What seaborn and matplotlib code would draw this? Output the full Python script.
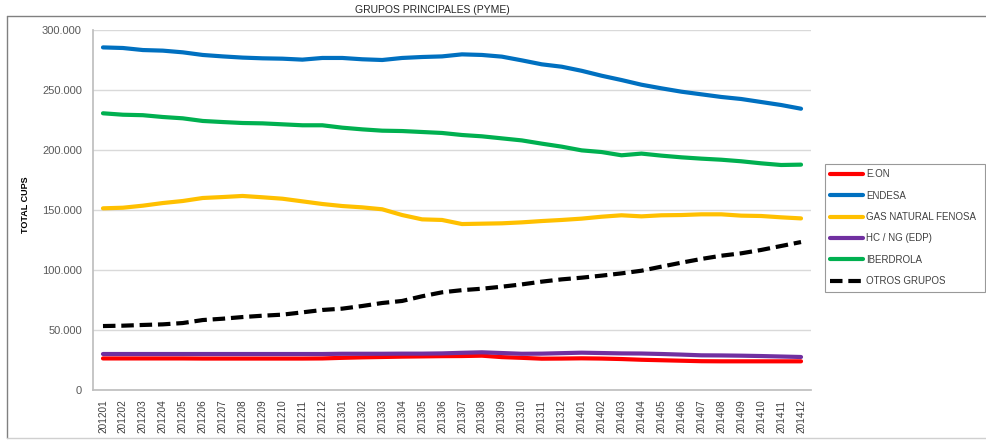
import pandas as pd
import matplotlib.pyplot as plt
import matplotlib.ticker as mticker
from matplotlib.lines import Line2D
import seaborn as sns

# ------------------------------
# Data
# ------------------------------
meses = ["201201", "201202", "201203", "201204", "201205", "201206",
         "201207", "201208", "201209", "201210", "201211", "201212",
         "201301", "201302", "201303", "201304", "201305", "201306",
         "201307", "201308", "201309", "201310", "201311", "201312",
         "201401", "201402", "201403", "201404", "201405", "201406",
         "201407", "201408", "201409", "201410", "201411", "201412"]

eon = [26300, 26300, 26300, 26300, 26300, 26200, 26200, 26200, 26200, 26200, 26200, 26300,
       26800, 27200, 27500, 27800, 28000, 28200, 28300, 28600, 27400, 26800, 26100, 26200,
       26400, 26200, 25800, 25200, 24800, 24400, 24000, 23900, 23900, 23900, 23900, 23900]

endesa = [285500, 285000, 283300, 282800, 281400, 279200, 278000, 277000, 276400, 276100, 275300, 276700,
          276700, 275600, 275000, 276700, 277500, 278000, 279700, 279200, 277800, 274700, 271400, 269400,
          266000, 261900, 258300, 254400, 251400, 248600, 246400, 244200, 242500, 240000, 237500, 234400]

gas_natural = [151400, 151900, 153600, 155800, 157500, 160000, 160800, 161700, 160600, 159400, 157200, 155000,
               153300, 152200, 150600, 145800, 142200, 141700, 138300, 138600, 138900, 139700, 140800, 141700,
               142800, 144400, 145600, 144700, 145600, 145800, 146400, 146400, 145300, 145000, 143900, 143000]

hc_ng = [30000, 30000, 30000, 30000, 30000, 30000, 30000, 30000, 30000, 30000, 30000, 30000,
         30200, 30200, 30200, 30300, 30300, 30500, 31000, 31400, 30800, 30200, 30300, 30700,
         31100, 30800, 30500, 30400, 30000, 29500, 28900, 28800, 28600, 28300, 27900, 27500]

iberdrola = [230600, 229400, 229000, 227500, 226400, 224200, 223300, 222500, 222200, 221400, 220600, 220600,
             218600, 217200, 216100, 215800, 215000, 214200, 212500, 211400, 209700, 208000, 205300, 202800,
             199700, 198300, 195600, 197000, 195300, 193900, 192800, 191900, 190600, 188900, 187500, 187800]

otros = [53300, 53600, 54200, 54700, 55800, 58300, 59400, 60800, 61900, 62800, 64700, 66700,
         67800, 70000, 72500, 74200, 78100, 81400, 83200, 84400, 86100, 88000, 90300, 92200,
         93600, 95300, 97200, 99400, 102800, 106100, 109200, 111900, 113900, 116700, 120000, 123300]

grupos = ["E.ON", "ENDESA", "GAS NATURAL FENOSA", "HC / NG (EDP)", "IBERDROLA", "OTROS GRUPOS"]
series = [eon, endesa, gas_natural, hc_ng, iberdrola, otros]
colores = ["#FF0000", "#0070C0", "#FFC000", "#7030A0", "#00B050", "#000000"]

# long table for seaborn
rows = []
for g, vals in zip(grupos, series):
    for i, v in enumerate(vals):
        rows.append({"grupo": g, "idx": i, "valor": v})
df = pd.DataFrame(rows)

# ------------------------------
# Style
# ------------------------------
sns.set_theme(style="white")
plt.rcParams["font.family"] = ["Liberation Sans", "DejaVu Sans"]

fig = plt.figure(figsize=(9.86, 4.4), dpi=100)
ax = fig.add_axes([93 / 986, 1 - 390 / 440, (811 - 93) / 986, 360 / 440])

dashes = {g: "" for g in grupos}
dashes["OTROS GRUPOS"] = (3, 1.4)
sns.lineplot(data=df, x="idx", y="valor", hue="grupo", style="grupo",
             hue_order=grupos, style_order=grupos,
             palette=dict(zip(grupos, colores)), dashes=dashes,
             linewidth=3, legend=False, ax=ax)
for ln in ax.lines:
    ln.set_solid_capstyle("round")
    ln.set_dash_capstyle("butt")

# ------------------------------
# Axes
# ------------------------------
ax.set_xlim(-0.5, len(meses) - 0.5)
ax.set_ylim(0, 300000)
ax.yaxis.set_major_locator(mticker.MultipleLocator(50000))
ax.yaxis.set_major_formatter(mticker.FuncFormatter(lambda v, p: f"{v:,.0f}".replace(",", ".")))
ax.set_xticks(range(len(meses)))
ax.set_xticklabels(meses, rotation=90, fontsize=7.2, color="#404040")
ax.set_xticks([i - 0.5 for i in range(len(meses) + 1)], minor=True)
ax.tick_params(axis="x", which="major", length=0, pad=7)
ax.tick_params(axis="x", which="minor", length=4, color="#bfbfbf", width=0.8)
ax.tick_params(axis="y", labelsize=8, labelcolor="#595959", length=3, color="#bfbfbf", pad=5)
ax.grid(axis="y", color="#d9d9d9", linewidth=1)
ax.set_axisbelow(True)
for s in ["top", "right"]:
    ax.spines[s].set_visible(False)
ax.spines["left"].set_color("#bfbfbf")
ax.spines["bottom"].set_color("#bfbfbf")
ax.set_xlabel("")
ax.set_ylabel("TOTAL CUPS", fontsize=6.5, fontweight="bold", color="#000000")
ax.yaxis.set_label_coords((30 - 93) / 718, (390 - 205) / 360)

fig.text(432 / 986, 1 - 10 / 440, "GRUPOS PRINCIPALES (PYME)", ha="center", va="center", fontsize=7.5)

# outer chart-area frame
frame_color = "#808080"
fig.add_artist(Line2D([7 / 986, 7 / 986], [1 - 16 / 440, 1 - 438 / 440], color=frame_color, lw=1))
fig.add_artist(Line2D([7 / 986, 1.0], [1 - 16 / 440, 1 - 16 / 440], color=frame_color, lw=1))
fig.add_artist(Line2D([7 / 986, 1.0], [1 - 438 / 440, 1 - 438 / 440], color="#d0d0d0", lw=1))

# ------------------------------
# Legend
# ------------------------------
handles = [Line2D([], [], color=c, lw=3,
                  linestyle=(0, (3, 1.4)) if g == "OTROS GRUPOS" else "-")
           for g, c in zip(grupos, colores)]
leg = fig.legend(handles, grupos, loc="upper left",
                 bbox_to_anchor=(825 / 986, 1 - 164 / 440 - 0.01, 160 / 986, 0.01), mode="expand",
                 fontsize=7, handlelength=3.4, handletextpad=0.3, labelspacing=1.17,
                 borderpad=0.55, borderaxespad=0, fancybox=False, frameon=True)
leg.get_frame().set_edgecolor("#808080")
leg.get_frame().set_linewidth(0.8)
for t in leg.get_texts():
    t.set_color("#404040")

plt.savefig("out.png", dpi=100)
plt.close()
